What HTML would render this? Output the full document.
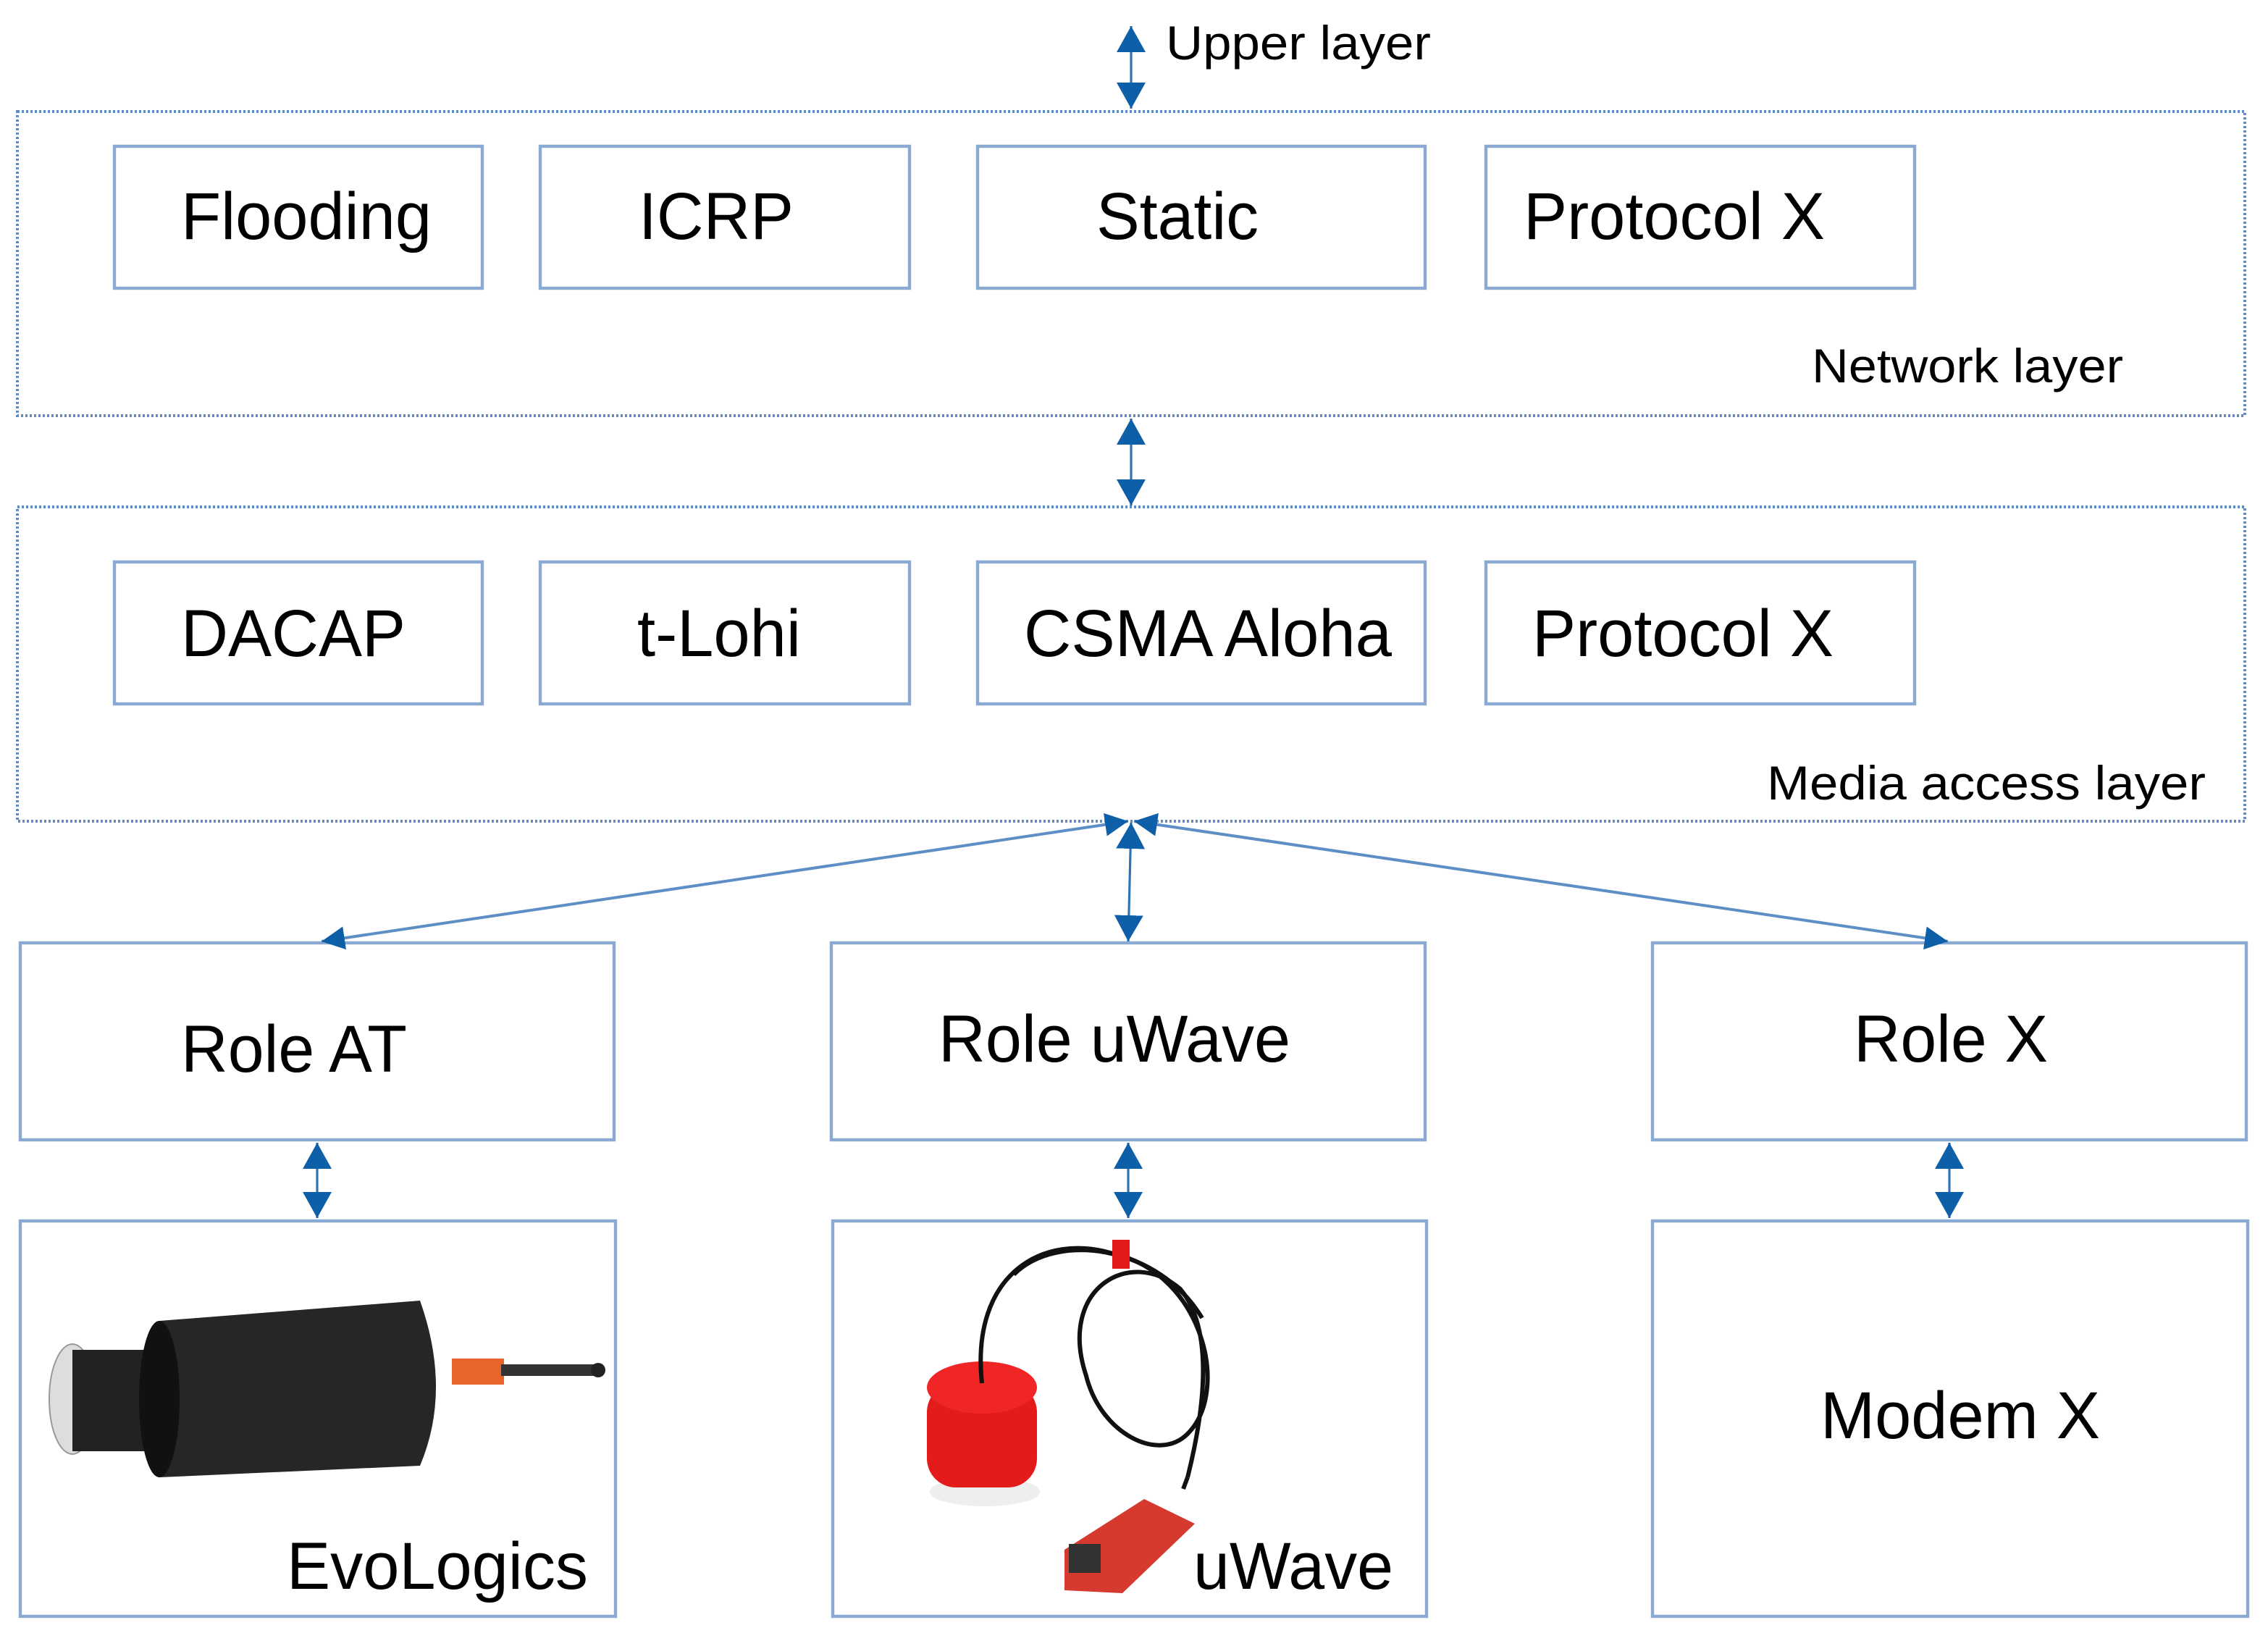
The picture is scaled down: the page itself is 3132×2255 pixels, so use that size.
<!DOCTYPE html>
<html><head><meta charset="utf-8"><style>
html,body{margin:0;padding:0;background:#fff;}
svg{display:block;}
text{font-family:"Liberation Sans",sans-serif;fill:#000;}
</style></head><body>
<svg width="3132" height="2255" viewBox="0 0 1566 1127.5" xmlns="http://www.w3.org/2000/svg">
<defs>
<marker id="a" viewBox="0 0 18 20" refX="18" refY="10" markerWidth="18" markerHeight="20" markerUnits="userSpaceOnUse" orient="auto-start-reverse"><path d="M0,0 L18,10 L0,20 z" fill="#0d5fa8"/></marker>
<marker id="b" viewBox="0 0 16 16" refX="16" refY="8" markerWidth="16" markerHeight="16" markerUnits="userSpaceOnUse" orient="auto-start-reverse"><path d="M0,0 L16,8 L0,16 z" fill="#0d5fa8"/></marker>
</defs>
<g fill="none" stroke="#5f8dc2" stroke-width="2" stroke-dasharray="1.5 1.5">
<rect x="12" y="77" width="1538" height="210"/>
<rect x="12" y="350" width="1538" height="217"/>
</g>
<g fill="#fff" stroke="#8aaad3" stroke-width="2.2">
<rect x="79" y="101" width="254" height="98"/>
<rect x="373" y="101" width="255" height="98"/>
<rect x="675" y="101" width="309" height="98"/>
<rect x="1026" y="101" width="296" height="98"/>
<rect x="79" y="388" width="254" height="98"/>
<rect x="373" y="388" width="255" height="98"/>
<rect x="675" y="388" width="309" height="98"/>
<rect x="1026" y="388" width="296" height="98"/>
<rect x="14" y="651" width="410" height="136"/>
<rect x="574" y="651" width="410" height="136"/>
<rect x="1141" y="651" width="410" height="136"/>
<rect x="14" y="843" width="411" height="273"/>
<rect x="575" y="843" width="410" height="273"/>
<rect x="1141" y="843" width="411" height="273"/>
</g>
<g stroke="#2f73b5" stroke-width="2" fill="none">
<line x1="781" y1="18" x2="781" y2="75" marker-start="url(#a)" marker-end="url(#a)" stroke-width="1.6"/>
<line x1="781" y1="289" x2="781" y2="349" marker-start="url(#a)" marker-end="url(#a)" stroke-width="1.6"/>
<line x1="781" y1="568" x2="779" y2="650" marker-start="url(#a)" marker-end="url(#a)" stroke-width="1.6"/>
<line x1="779" y1="567" x2="222" y2="650" marker-start="url(#b)" marker-end="url(#b)" stroke="#5d8fc6"/>
<line x1="783" y1="567" x2="1345" y2="650" marker-start="url(#b)" marker-end="url(#b)" stroke="#5d8fc6"/>
<line x1="219" y1="789" x2="219" y2="841" marker-start="url(#a)" marker-end="url(#a)" stroke-width="1.6"/>
<line x1="779" y1="789" x2="779" y2="841" marker-start="url(#a)" marker-end="url(#a)" stroke-width="1.6"/>
<line x1="1346" y1="789" x2="1346" y2="841" marker-start="url(#a)" marker-end="url(#a)" stroke-width="1.6"/>
</g>
<g font-size="46">
<text x="125" y="165" textLength="173" lengthAdjust="spacingAndGlyphs">Flooding</text>
<text x="441" y="165" textLength="107" lengthAdjust="spacingAndGlyphs">ICRP</text>
<text x="757" y="165" textLength="112" lengthAdjust="spacingAndGlyphs">Static</text>
<text x="1052" y="165" textLength="208" lengthAdjust="spacingAndGlyphs">Protocol X</text>
<text x="125" y="453" textLength="155" lengthAdjust="spacingAndGlyphs">DACAP</text>
<text x="440" y="453" textLength="113" lengthAdjust="spacingAndGlyphs">t-Lohi</text>
<text x="707" y="453" textLength="254" lengthAdjust="spacingAndGlyphs">CSMA Aloha</text>
<text x="1058" y="453" textLength="208" lengthAdjust="spacingAndGlyphs">Protocol X</text>
<text x="125" y="740" textLength="156" lengthAdjust="spacingAndGlyphs">Role AT</text>
<text x="648" y="733" textLength="243" lengthAdjust="spacingAndGlyphs">Role uWave</text>
<text x="1280" y="733" textLength="134" lengthAdjust="spacingAndGlyphs">Role X</text>
<text x="198" y="1097" textLength="208" lengthAdjust="spacingAndGlyphs">EvoLogics</text>
<text x="824" y="1097" textLength="138" lengthAdjust="spacingAndGlyphs">uWave</text>
<text x="1257" y="993" textLength="193" lengthAdjust="spacingAndGlyphs">Modem X</text>
</g>
<g font-size="33">
<text x="805" y="41" textLength="183" lengthAdjust="spacingAndGlyphs">Upper layer</text>
<text x="1251" y="264" textLength="215" lengthAdjust="spacingAndGlyphs">Network layer</text>
<text x="1220" y="552" textLength="303" lengthAdjust="spacingAndGlyphs">Media access layer</text>
</g>
<g>
<ellipse cx="50" cy="966" rx="16" ry="38" fill="#ddd" stroke="#999"/>
<rect x="50" y="932" width="60" height="70" fill="#222"/>
<path d="M110,912 L290,898 Q312,960 290,1012 L110,1020 Q92,966 110,912 Z" fill="#262626"/>
<ellipse cx="110" cy="966" rx="14" ry="54" fill="#111"/>
<rect x="312" y="938" width="36" height="18" fill="#e8642a"/>
<rect x="346" y="942" width="66" height="8" fill="#333"/>
<circle cx="413" cy="946" r="5" fill="#222"/>
</g>
<g>
<ellipse cx="680" cy="1030" rx="38" ry="10" fill="#eee"/>
<rect x="640" y="955" width="76" height="72" rx="20" fill="#e31b1b"/>
<ellipse cx="678" cy="958" rx="38" ry="18" fill="#f02525"/>
<path d="M678,955 C670,880 720,850 770,866 C830,880 850,960 820,990 C800,1010 760,990 750,950 C730,890 780,860 815,890 C840,920 830,980 820,1020" fill="none" stroke="#111" stroke-width="3"/>
<path d="M700,880 C730,850 800,860 830,910" fill="none" stroke="#111" stroke-width="3"/>
<rect x="768" y="856" width="12" height="20" fill="#e31b1b"/>
<line x1="820" y1="1020" x2="817" y2="1028" stroke="#111" stroke-width="3"/>
<path d="M735,1070 L790,1035 L825,1052 L775,1100 L735,1098 Z" fill="#d63a2e"/>
<rect x="738" y="1066" width="22" height="20" fill="#333"/>
</g>
</svg>
</body></html>
